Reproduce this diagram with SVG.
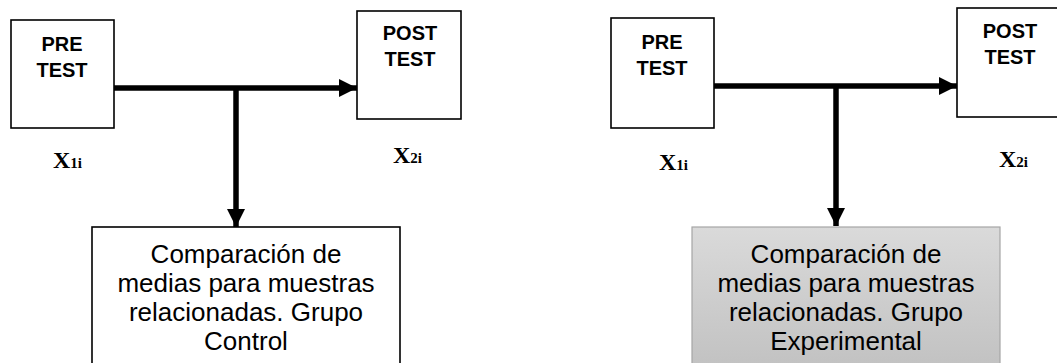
<svg xmlns="http://www.w3.org/2000/svg" width="1057" height="363" viewBox="0 0 1057 363">
<defs>
<style>
.box{fill:#fff;stroke:#000;stroke-width:1.6}
.lbl{font-family:"Liberation Sans",Arial,sans-serif;font-weight:bold;font-size:20px;text-anchor:middle;fill:#000}
.big{font-family:"Liberation Sans",Arial,sans-serif;font-size:26px;text-anchor:middle;fill:#000}
.var{font-family:"Liberation Serif","Times New Roman",serif;font-weight:bold;font-size:24px;fill:#000}
.sub{font-size:15px}
.line{stroke:#000;stroke-width:5.5;fill:none}
</style>
<linearGradient id="g" x1="0" y1="0" x2="0" y2="1">
<stop offset="0" stop-color="#dadada"/>
<stop offset="1" stop-color="#c0c0c0"/>
</linearGradient>
<marker id="ah" viewBox="0 0 10 10" refX="10" refY="5" markerWidth="3.3" markerHeight="3.3" markerUnits="strokeWidth" orient="auto">
<path d="M0,0 L10,5 L0,10 Z" fill="#000"/>
</marker>
</defs>
<g id="connectors">
<line class="line" x1="114" y1="88" x2="357" y2="88" marker-end="url(#ah)"/>
<line class="line" x1="236" y1="88" x2="236" y2="227" marker-end="url(#ah)"/>
<line class="line" x1="714" y1="86" x2="957" y2="86" marker-end="url(#ah)"/>
<line class="line" x1="836" y1="86" x2="836" y2="226" marker-end="url(#ah)"/>
</g>
<g id="pre1">
<rect class="box" x="11" y="20" width="103" height="108"/>
<text class="lbl" x="62" y="51">PRE</text>
<text class="lbl" x="62" y="77">TEST</text>
</g>
<g id="post1">
<rect class="box" x="357" y="11" width="104" height="108"/>
<text class="lbl" x="410" y="40">POST</text>
<text class="lbl" x="410" y="66">TEST</text>
</g>
<g id="x1a"><text class="var" x="53" y="168">X<tspan class="sub">1i</tspan></text></g>
<g id="x2a"><text class="var" x="393" y="163">X<tspan class="sub">2i</tspan></text></g>
<g id="control">
<rect class="box" x="92" y="227" width="308" height="150"/>
<text class="big" x="246" y="263">Comparación de</text>
<text class="big" x="246" y="292">medias para muestras</text>
<text class="big" x="246" y="321">relacionadas. Grupo</text>
<text class="big" x="246" y="350">Control</text>
</g>
<g id="pre2">
<rect class="box" x="611" y="18" width="103" height="110"/>
<text class="lbl" x="662" y="49">PRE</text>
<text class="lbl" x="662" y="75">TEST</text>
</g>
<g id="post2">
<rect class="box" x="957" y="8" width="110" height="109"/>
<text class="lbl" x="1010" y="38">POST</text>
<text class="lbl" x="1010" y="64">TEST</text>
</g>
<g id="x1b"><text class="var" x="659" y="170">X<tspan class="sub">1i</tspan></text></g>
<g id="x2b"><text class="var" x="999" y="167">X<tspan class="sub">2i</tspan></text></g>
<g id="experimental">
<rect x="692" y="227" width="308" height="150" fill="url(#g)" stroke="#a6a6a6" stroke-width="1.2"/>
<text class="big" x="846" y="263">Comparación de</text>
<text class="big" x="846" y="292">medias para muestras</text>
<text class="big" x="846" y="321">relacionadas. Grupo</text>
<text class="big" x="846" y="350">Experimental</text>
</g>
</svg>
